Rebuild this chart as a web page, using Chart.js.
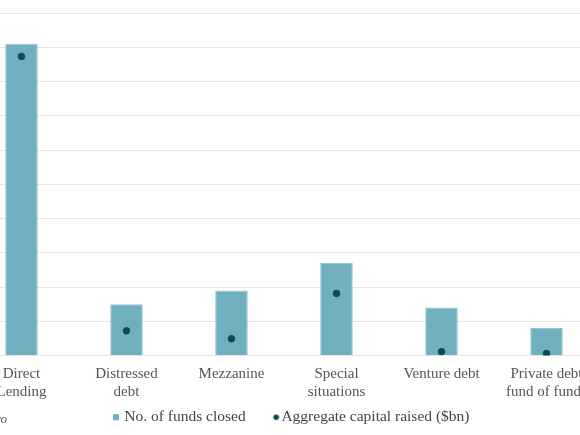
<!DOCTYPE html>
<html>
<head>
<meta charset="utf-8">
<script src="https://cdn.jsdelivr.net/npm/chart.js@4"></script>
<style>
  html, body { margin: 0; padding: 0; background: #fff; }
  body { width: 580px; height: 435px; overflow: hidden; position: relative; }
  #wrap { position: absolute; left: -31.5px; top: 0; width: 630px; height: 435px; }
  #source { position: absolute; left: -200px; width: 207px; top: 411px; text-align: right;
            font: italic 13px "Liberation Serif", serif; color: #555; white-space: nowrap; }
</style>
</head>
<body>
<div id="wrap"><canvas id="fundChart"></canvas></div>
<div id="source">Source: Preqin Pro</div>
<script>
  // categories + values
  const categories = [['Direct', 'Lending'], ['Distressed', 'debt'], 'Mezzanine',
                      ['Special', 'situations'], 'Venture debt', ['Private debt', 'fund of funds']];
  const fundsClosed = [182, 30, 38, 54, 28, 16];
  const capitalRaised = [87.3, 7.2, 4.9, 18.1, 1.1, 0.6];

  const barColor = '#70afbd';
  const dotColor = '#0a4b55';

  // little legend marks, drawn as images so spacing can be controlled
  function legendMark(w, draw) {
    const c = document.createElement('canvas');
    c.width = w; c.height = 8;
    draw(c.getContext('2d'));
    return c;
  }
  const squareMark = legendMark(23, function (g) { g.fillStyle = barColor; g.fillRect(17, 1, 6, 6); });
  const dotMark = legendMark(30, function (g) {
    g.fillStyle = dotColor; g.beginPath(); g.arc(26.5, 4, 2.8, 0, Math.PI * 2); g.fill();
  });
  const marks = [squareMark, dotMark];

  const ctx = document.getElementById('fundChart');
  const fundChart = new Chart(ctx, {
    type: 'bar',
    data: {
      labels: categories,
      datasets: [{
        label: 'No. of funds closed',
        data: fundsClosed,
        backgroundColor: barColor,
        borderColor: '#94c6d0',
        borderWidth: 1,
        barPercentage: 0.31,
        categoryPercentage: 1,
        yAxisID: 'y',
        order: 2
      },
      {
        type: 'line',
        label: 'Aggregate capital raised ($bn)',
        data: capitalRaised,
        showLine: false,
        pointRadius: 3.3,
        pointHoverRadius: 3.3,
        pointBackgroundColor: dotColor,
        pointBorderColor: dotColor,
        yAxisID: 'y1',
        order: 1
      }]
    },
    options: {
      responsive: true,
      maintainAspectRatio: false,
      animation: false,
      layout: { autoPadding: false, padding: { top: 13, left: 0, right: 0, bottom: 0 } },
      plugins: {
        title: { display: false },
        tooltip: { enabled: false },
        legend: {
          position: 'bottom',
          labels: {
            usePointStyle: true,
            pointStyleWidth: 18,
            padding: 10,
            color: '#444',
            font: { family: '"Liberation Serif", serif', size: 15.5 },
            sort: (a, b) => a.datasetIndex - b.datasetIndex,
            generateLabels: function (chart) {
              const items = Chart.defaults.plugins.legend.labels.generateLabels(chart);
              items.forEach(function (it) { it.pointStyle = marks[it.datasetIndex]; });
              return items;
            }
          }
        }
      },
      scales: {
        x: {
          grid: { display: false, drawTicks: false },
          border: { display: false },
          afterFit: function (scale) { scale.height = 44; },
          ticks: {
            color: '#555',
            padding: 10,
            maxRotation: 0,
            autoSkip: false,
            font: { family: '"Liberation Serif", serif', size: 15 }
          }
        },
        y: {
          min: 0,
          max: 200,
          ticks: { display: false, stepSize: 20 },
          grid: { color: '#e6e6e6', drawTicks: false, lineWidth: 1 },
          border: { display: false }
        },
        y1: {
          display: false,
          position: 'right',
          min: 0,
          max: 100
        }
      }
    }
  });
</script>
</body>
</html>
